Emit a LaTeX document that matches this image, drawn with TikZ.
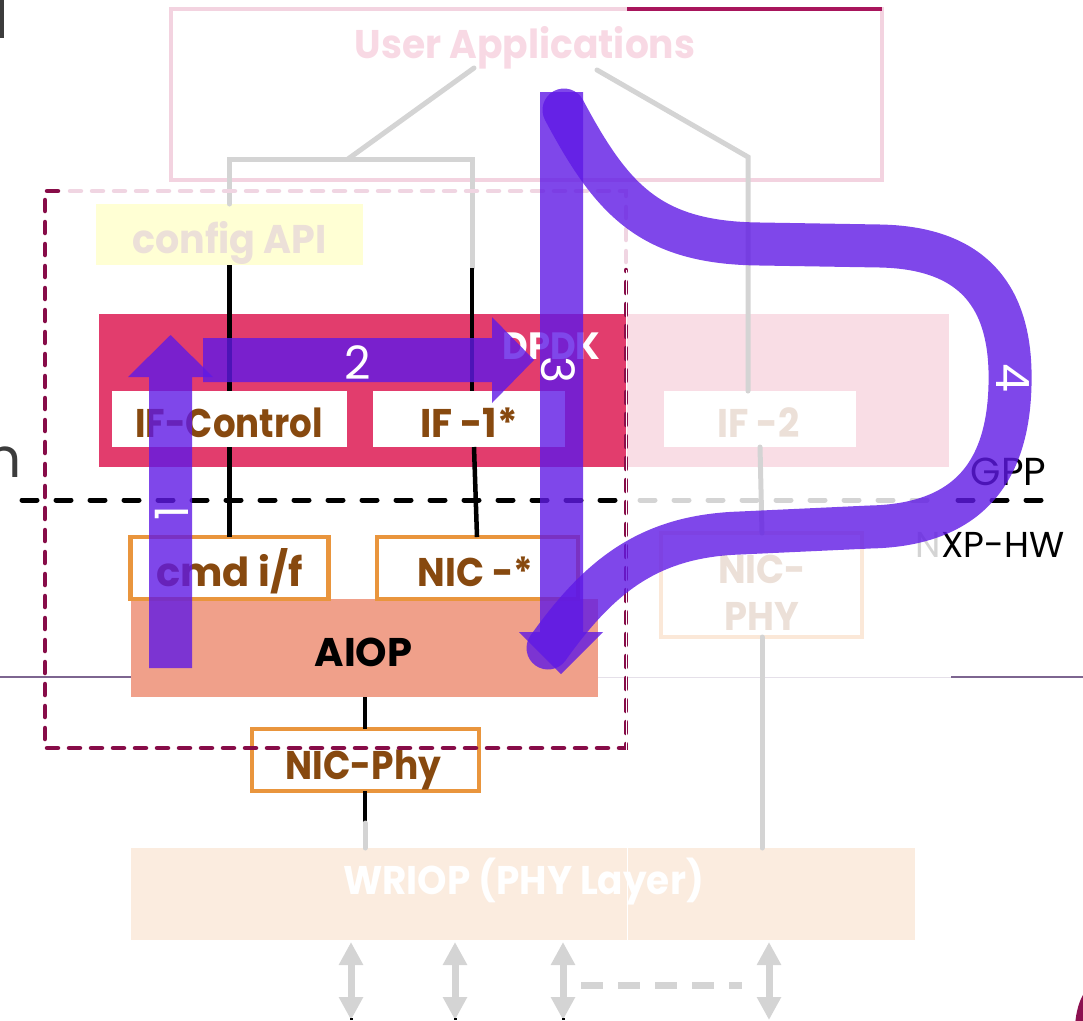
\documentclass[tikz,border=0pt]{standalone}
\usepackage{fontspec}
\setmainfont{Poppins}
\usetikzlibrary{arrows.meta}
\definecolor{uapink}{HTML}{F3D3E0}
\definecolor{uatxt}{HTML}{F8D9E4}
\definecolor{cfgfill}{HTML}{FFFFD4}
\definecolor{lighttxt}{HTML}{ECE0D8}
\definecolor{crimson}{HTML}{E23D6D}
\definecolor{palepink}{HTML}{F9DDE5}
\definecolor{labbrown}{HTML}{87490F}
\definecolor{orng}{HTML}{E9953D}
\definecolor{salmon}{HTML}{F0A08A}
\definecolor{peach}{HTML}{FBECDF}
\definecolor{paleorng}{HTML}{FBE8D8}
\definecolor{lgray}{HTML}{D4D4D4}
\definecolor{magdark}{HTML}{870C48}
\definecolor{magpale}{HTML}{F0D5E2}
\definecolor{purp}{RGB}{95,25,229}
\definecolor{topmag}{HTML}{A8155C}
\definecolor{hlinec}{HTML}{7D6590}
\definecolor{darkgraytxt}{HTML}{3C3C3C}
\definecolor{logomag}{HTML}{8C1050}
\newcommand{\sqx}[2]{\scalebox{#1}[1]{#2}}
\begin{document}
\begin{tikzpicture}[x=1pt,y=-1pt,
  box/.style={rectangle, inner sep=0pt, outer sep=0pt},
  lab/.style={inner sep=0pt, outer sep=0pt, anchor=base, font=\fontsize{40}{40}\selectfont\bfseries, text=labbrown},
  thintxt/.style={inner sep=0pt, outer sep=0pt, anchor=base},
  gline/.style={draw=lgray, line width=5pt, line cap=round},
  bline/.style={draw=black, line width=4.5pt},
  num/.style={text=white, font=\fontsize{46}{46}\selectfont, inner sep=0pt},
  blockarrow/.style={fill=purp, fill opacity=0.8, draw=none},
  gdarrow/.style={draw=lgray, line width=7pt, arrows={Triangle[width=23pt,length=23pt]-Triangle[width=23pt,length=23pt]}},
  dashmag/.style={draw=magdark, line width=4.5pt, line cap=round, dash pattern=on 11pt off 11pt},
  dashpale/.style={draw=magpale, line width=4.5pt, line cap=round, dash pattern=on 11pt off 11pt},
  hdash/.style={line width=5pt, line cap=round, dash pattern=on 15pt off 19pt}
]
\useasboundingbox (0,0) rectangle (1083,1020);

% thin horizontal lines
\draw[hlinec, line width=1.5pt] (0,677) -- (131,677);
\draw[hlinec!20, line width=1pt] (598,677) -- (951,677);
\draw[hlinec, line width=1.5pt] (951,677) -- (1083,677);

% User applications
\node[box, draw=uapink, line width=4.5pt, minimum width=711pt, minimum height=171pt] (ua) at (526.5,94.5) {};
\draw[topmag, line width=4.5pt] (627,9) -- (ua.north east);
\node[lab, text=uatxt] (uatext) at (525,58) {\sqx{0.94}{User Applications}};

% gray connectors from user applications
\coordinate (uaL) at (474,68);
\coordinate (j1) at (348,159);
\coordinate (k1) at (472,159);
\coordinate (k2) at (472,268);
\coordinate (uaR) at (597,70);
\coordinate (r1) at (748,157);

% config API
\node[box, fill=cfgfill, minimum width=267pt, minimum height=61pt] (cfg) at (229.5,234.5) {};
\node[lab, text=lighttxt] (cfgt) at (229.5,253) {\sqx{0.95}{config API}};

% DPDK
\node[box, fill=crimson, minimum width=528pt, minimum height=153pt] (dpdk) at (363,390.5) {};
\node[box, fill=palepink, minimum width=322pt, minimum height=153pt] (dpdk2) at (788,390.5) {};
\node[lab, text=white, font=\fontsize{38}{38}\selectfont\bfseries] (dpdkt) at (551.5,359) {\sqx{0.93}{DPDK}};

\node[box, fill=white, minimum width=235pt, minimum height=56pt] (ifc) at (229.5,419) {};
\node[box, fill=white, minimum width=192pt, minimum height=56pt] (if1) at (469,419) {};
\node[box, fill=white, minimum width=192pt, minimum height=56pt] (if2) at (760,419) {};
\node[lab] (ifct) at (229,437) {\sqx{0.89}{IF-Control}};
\node[lab] (if1t) at (469,437) {\sqx{0.96}{IF -1*}};
\node[lab, text=lighttxt] (if2t) at (758.5,437) {\sqx{0.93}{IF -2}};

\draw[gline] (uaL) -- (j1);
\draw[gline] (cfg.north) -- (cfg.north |- j1) -- (k1) -- (k2);
\draw[gline] (uaR) -- (r1) -- (if2.north -| r1);

% horizontal dashed separator
\draw[hdash, black] (22,500) -- (626,500);
\draw[hdash, lgray] (640,500) -- (945,500);
\draw[hdash, black] (958,500) -- (1048,500);

% AIOP block
\node[box, fill=salmon, minimum width=467pt, minimum height=98pt] (aiop) at (364.5,648) {};
\node[box, draw=orng, fill=white, line width=4.5pt, minimum width=198pt, minimum height=62pt] (cmd) at (229.5,568) {};
\node[box, draw=orng, fill=white, line width=4.5pt, minimum width=201pt, minimum height=62pt] (nic) at (477.5,568) {};
\node[lab] (cmdt) at (229.5,586) {cmd i/f};
\node[lab] (nict) at (475.5,586) {\sqx{0.92}{NIC -*}};
\node[lab, text=black] (aiopt) at (363.5,666) {AIOP};

% NIC-Phy
\node[box, draw=orng, fill=white, line width=4.5pt, minimum width=227pt, minimum height=62pt] (nicphy) at (365.5,760) {};
\node[lab] (nicphyt) at (363.5,779) {\sqx{0.9}{NIC-Phy}};

% NIC-PHY (pale)
\node[box, draw=paleorng, line width=4.5pt, minimum width=201pt, minimum height=104pt] (nicphy2) at (761.5,585) {};
\node[lab, text=lighttxt] (nicphy2a) at (762,583) {\sqx{0.92}{NIC-}};
\node[lab, text=lighttxt] (nicphy2b) at (762,630) {\sqx{0.92}{PHY}};

% WRIOP
\node[box, fill=peach, minimum width=784pt, minimum height=92pt] (wriop) at (523,894) {};
\node[lab, text=white] (wriopt) at (523.5,894) {\sqx{0.935}{WRIOP (PHY Layer)}};
\draw[white, line width=1pt] (627,848) -- (627,940);

% black connectors
\draw[bline] (k2) -- (k2 |- if1.north);
\draw[bline] (cfg.south) -- (ifc.north);
\draw[bline] (ifc.south) -- (cmd.north);
\draw[bline] (if1.south -| 474,0) -- (nic.north -| 477,0);
\draw[bline] (aiop.south -| 365,0) -- (nicphy.north -| 365,0);
\coordinate (m1) at (365,823);
\draw[bline] (nicphy.south -| 365,0) -- (m1);
\draw[gline] (m1) -- (wriop.north -| m1);
\draw[gline] (if2.south -| 760,0) -- (nicphy2.north -| 762,0);
\draw[gline] (nicphy2.south -| 762,0) -- (wriop.north -| 762,0);

% dashed boundary box
\draw[dashmag] (58,191) -- (45,191) -- (45,748) -- (626,748) -- (626,270);
\draw[dashpale] (626,262) -- (626,191) -- (70,191);
\draw[white, line width=0.8pt] (626.5,270) -- (626.5,750);

% gray double arrows below WRIOP
\foreach \xx/\nm in {351/a,455/b,563/c,769/d}{
  \coordinate (gt\nm) at (\xx,942);
  \coordinate (gb\nm) at (\xx,1020);
  \draw[gdarrow] (gt\nm) -- (gb\nm);
}
\foreach \xx in {351,455,563}{
  \fill[black] (\xx-1.5,1018) rectangle (\xx+1.5,1020);
}
\coordinate (gd1) at (581,985);
\coordinate (gd2) at (742,985);
\draw[lgray, line width=7pt, dash pattern=on 22pt off 15pt] (gd1) -- (gd2);

% side texts
\node[thintxt, font=\fontsize{39}{39}\selectfont] (gpp) at (1008.5,485) {GPP};
\node[thintxt, font=\fontsize{36}{36}\selectfont] (nxp) at (990,557) {\textcolor{lgray}{N}XP-HW};
\node[thintxt, anchor=base east, text=darkgraytxt, font=\fontsize{55}{55}\selectfont] (ncut) at (22,477) {n};
\fill[darkgraytxt] (0,0) rectangle (4,38);
\fill[logomag] (1100,1030) ellipse [x radius=25, y radius=48];

% purple flow arrows
\draw[purp, draw opacity=0.8, line width=43pt, line cap=round]
  (564,110) .. controls (612,200) and (650,243) .. (760,244)
  -- (880,246) .. controls (985,248) and (1012,310) .. (1010,385)
  .. controls (1008,470) and (970,525) .. (870,527)
  -- (740,533) .. controls (650,536) and (600,575) .. (548,648);
\fill[blockarrow] (540,92) -- (583,92) -- (583,632) -- (603,632) -- (561,674) -- (519,632) -- (540,632) -- cycle;
\fill[blockarrow] (149,668) -- (149,377) -- (128,377) -- (170.5,335) -- (213,377) -- (192,377) -- (192,668) -- cycle;
\fill[blockarrow] (203,338) -- (492,338) -- (492,317) -- (534,360) -- (492,403) -- (492,382) -- (203,382) -- cycle;

\node[num, rotate=90] (n1) at (172,513) {1};
\node[num] (n2) at (358,363) {2};
\node[num, rotate=-90] (n3) at (558,370) {3};
\node[num, rotate=-90] (n4) at (1013,378) {4};
\end{tikzpicture}
\end{document}
